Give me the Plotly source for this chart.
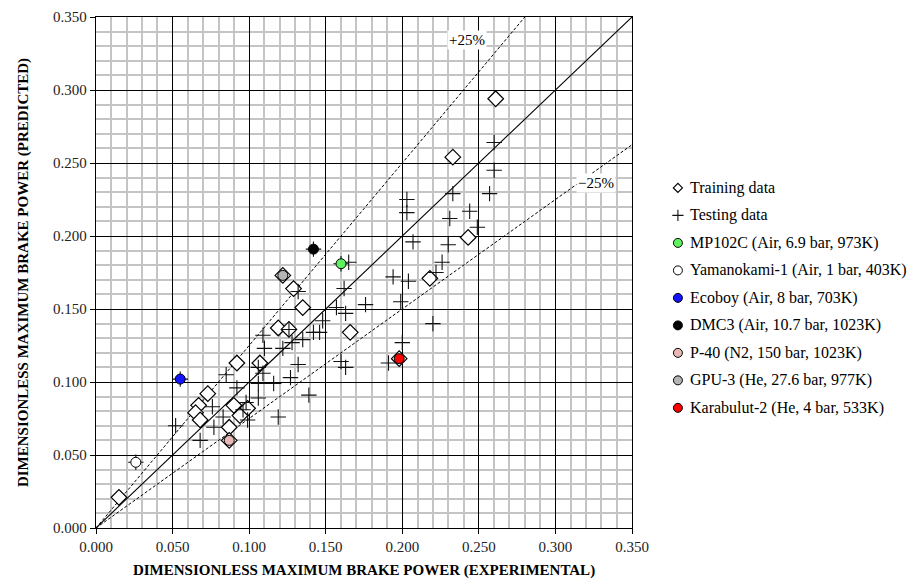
import plotly.graph_objects as go

# Dimensionless maximum brake power: experimental (x) vs predicted (y)
train_x = [0.015, 0.092, 0.073, 0.067, 0.065, 0.068, 0.087, 0.087, 0.090, 0.099, 0.094, 0.107,
           0.119, 0.126, 0.122, 0.129, 0.135, 0.166, 0.261, 0.233, 0.243, 0.218, 0.198]
train_y = [0.021, 0.113, 0.092, 0.084, 0.079, 0.074, 0.069, 0.060, 0.084, 0.082, 0.077, 0.113,
           0.137, 0.136, 0.173, 0.164, 0.151, 0.134, 0.294, 0.254, 0.199, 0.171, 0.116]

test_x = [0.052, 0.068, 0.076, 0.077, 0.083, 0.085, 0.092, 0.098, 0.096, 0.099, 0.106, 0.109,
          0.106, 0.106, 0.109, 0.110, 0.116, 0.119, 0.122, 0.128, 0.127, 0.132, 0.135, 0.139,
          0.142, 0.146, 0.148, 0.157, 0.162, 0.163, 0.176, 0.160, 0.163, 0.132, 0.126, 0.165,
          0.203, 0.203, 0.207, 0.194, 0.204, 0.260, 0.260, 0.257, 0.233, 0.244, 0.231, 0.249,
          0.230, 0.226, 0.222, 0.199, 0.220, 0.200, 0.191, 0.026, 0.055, 0.142, 0.160]
test_y = [0.070, 0.060, 0.083, 0.069, 0.076, 0.105, 0.096, 0.086, 0.081, 0.074, 0.110, 0.106,
          0.099, 0.089, 0.132, 0.123, 0.099, 0.076, 0.123, 0.127, 0.103, 0.112, 0.129, 0.091,
          0.134, 0.134, 0.142, 0.151, 0.164, 0.147, 0.153, 0.114, 0.110, 0.162, 0.136, 0.182,
          0.225, 0.216, 0.196, 0.172, 0.169, 0.264, 0.245, 0.229, 0.229, 0.217, 0.212, 0.206,
          0.194, 0.182, 0.175, 0.155, 0.140, 0.127, 0.113, 0.045, 0.102, 0.191, 0.181]

# Highlighted engines: name, x, y, fill colour
engine_names = ["MP102C (Air, 6.9 bar, 973K)", "Yamanokami-1 (Air, 1 bar, 403K)",
                "Ecoboy (Air, 8 bar, 703K)", "DMC3 (Air, 10.7 bar, 1023K)",
                "P-40 (N2, 150 bar, 1023K)", "GPU-3 (He, 27.6 bar, 977K)",
                "Karabulut-2 (He, 4 bar, 533K)"]
engine_x = [0.160, 0.026, 0.055, 0.142, 0.087, 0.122, 0.198]
engine_y = [0.181, 0.045, 0.102, 0.191, 0.060, 0.173, 0.116]
engine_colors = ["#5ff25f", "#ffffff", "#1414ff", "#000000", "#e8b8b4", "#b4b4b4", "#ff0000"]

# Reference lines: perfect agreement and +/-25 % bands
ref_x = [0.0, 0.35]
band_plus_x = [0.0, 0.28]
band_minus_x = [0.0, 0.35]

SERIF = "Liberation Serif"
fig = go.Figure()

fig.add_trace(go.Scatter(x=ref_x, y=ref_x, mode="lines",
                         line=dict(color="black", width=1.1), hoverinfo="skip"))
fig.add_trace(go.Scatter(x=band_plus_x, y=[v * 1.25 for v in band_plus_x], mode="lines",
                         line=dict(color="black", width=1, dash="3px,2px"), hoverinfo="skip"))
fig.add_trace(go.Scatter(x=band_minus_x, y=[v * 0.75 for v in band_minus_x], mode="lines",
                         line=dict(color="black", width=1, dash="3px,2px"), hoverinfo="skip"))

train_marker = dict(symbol="diamond", color="white", line=dict(color="black", width=1.2))
test_marker = dict(symbol="cross-thin", color="black", line=dict(color="#111111", width=1.1))

fig.add_trace(go.Scatter(x=train_x, y=train_y, mode="markers", name="Training data",
                         marker=dict(size=12, **train_marker)))
fig.add_trace(go.Scatter(x=test_x, y=test_y, mode="markers", name="Testing data",
                         marker=dict(size=11, **test_marker)))
for n, ex, ey, c in zip(engine_names, engine_x, engine_y, engine_colors):
    fig.add_trace(go.Scatter(x=[ex], y=[ey], mode="markers", name=n,
                             marker=dict(symbol="circle", size=10, color=c,
                                         line=dict(color="black", width=1))))

# Key drawn on its own hidden axes to the right of the plot (one row per entry)
key_labels = ["Training data", "Testing data"] + engine_names
key_rows = list(range(len(key_labels)))
KEY_MARK_X, KEY_TEXT_X = 0.109, 0.146
fig.add_trace(go.Scatter(x=[KEY_MARK_X], y=[key_rows[0]], mode="markers", xaxis="x2", yaxis="y2",
                         marker=dict(size=7, **train_marker)))
fig.add_trace(go.Scatter(x=[KEY_MARK_X], y=[key_rows[1]], mode="markers", xaxis="x2", yaxis="y2",
                         marker=dict(size=8, **test_marker)))
fig.add_trace(go.Scatter(x=[KEY_MARK_X] * len(engine_names), y=key_rows[2:], mode="markers",
                         xaxis="x2", yaxis="y2",
                         marker=dict(symbol="circle", size=9, color=engine_colors,
                                     line=dict(color="black", width=1))))
for lbl, r in zip(key_labels, key_rows):
    fig.add_annotation(x=KEY_TEXT_X, y=r, xref="x2", yref="y2", text=lbl, showarrow=False,
                       xanchor="left", yanchor="middle",
                       font=dict(family=SERIF, size=16, color="black"))

axis_common = dict(
    range=[0, 0.35], dtick=0.05, tick0=0, tickformat=".3f", automargin=False,
    showline=True, linecolor="black", linewidth=1.3, mirror=True,
    showgrid=True, gridcolor="black", gridwidth=1.2,
    zeroline=False, ticks="outside", ticklen=5, tickcolor="black", tickwidth=1,
    tickfont=dict(family=SERIF, size=15, color="#222222"),
    minor=dict(dtick=0.01, showgrid=True, gridcolor="#c4c4c4", gridwidth=1.5),
)

fig.update_layout(
    xaxis=dict(**axis_common, domain=[0, 536 / 814],
               title=dict(text="<b>DIMENSIONLESS MAXIMUM BRAKE POWER (EXPERIMENTAL)</b>",
                          font=dict(family=SERIF, size=15, color="black"), standoff=10)),
    yaxis=dict(**axis_common, domain=[0, 1],
               title=dict(text="<b>DIMENSIONLESS MAXIMUM BRAKE POWER (PREDICTED)</b>",
                          font=dict(family=SERIF, size=15, color="black"), standoff=20)),
    xaxis2=dict(domain=[0.68, 1], range=[0, 1], visible=False, fixedrange=True),
    yaxis2=dict(domain=[0, 1], range=[12.371, -6.218], visible=False, fixedrange=True,
                anchor="x2"),
)

fig.add_annotation(x=0.242, y=0.334, text="+25%", showarrow=False, bgcolor="white",
                   font=dict(family=SERIF, size=15, color="black"))
fig.add_annotation(x=0.3267, y=0.236, text="\u221225%", showarrow=False, bgcolor="white",
                   font=dict(family=SERIF, size=15, color="black"))

fig.update_layout(
    width=910, height=584,
    margin=dict(l=96, r=0, t=17, b=56),
    paper_bgcolor="white", plot_bgcolor="white",
    showlegend=False,
)

fig.write_html("out.html")
